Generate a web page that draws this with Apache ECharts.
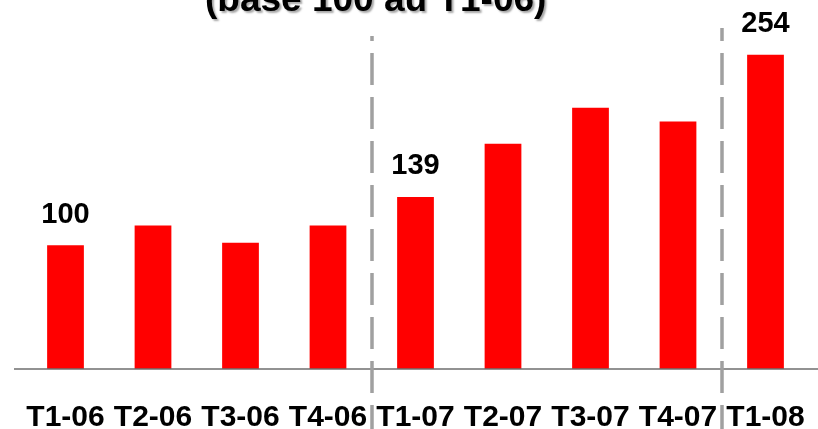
<!DOCTYPE html>
<html>
<head>
<meta charset="utf-8">
<script src="https://cdn.jsdelivr.net/npm/echarts@6/dist/echarts.min.js"></script>
<style>
  html, body { margin: 0; padding: 0; background: #fff; }
  #chart { width: 818px; height: 429px; }
</style>
</head>
<body>
<div id="chart"></div>
<script>
// données (base 100 au T1-06)
const trimestres = ['T1-06', 'T2-06', 'T3-06', 'T4-06', 'T1-07', 'T2-07', 'T3-07', 'T4-07', 'T1-08']
const indices = [100, 116, 102, 116, 139, 182, 211, 200, 254]
const etiquettes = [0, 4, 8] // barres dont la valeur est affichée
const separateurs = [4, 8]   // ruptures entre les années
const hautSeparateurs = [269, 275.5]

const police = 'Liberation Sans, Arial, sans-serif'
const myChart = echarts.init(document.getElementById('chart'))

const barData = indices.map((v, i) => ({
    value: v,
    label: { show: etiquettes.includes(i) }
}))

const option = {
    animation: false,
    title: {
        text: '(base 100 au T1-06)',
        left: 205,
        top: -18,
        padding: 0,
        textStyle: {
            fontFamily: police,
            fontSize: 37,
            fontWeight: 'bold',
            color: '#000',
            textShadowColor: 'rgba(0,0,0,0.35)',
            textShadowOffsetX: 2,
            textShadowOffsetY: 2,
            textShadowBlur: 2
        }
    },
    grid: [
        { left: 21.75, right: 8.75, top: 20, bottom: 60, outerBoundsMode: 'none' },
        { left: 0, right: 0, top: 20, bottom: 0, outerBoundsMode: 'none' }
    ],
    xAxis: [
        {
            gridIndex: 0,
            type: 'category',
            data: trimestres,
            axisLine: { show: false },
            axisTick: { show: false },
            axisLabel: {
                interval: 0,
                hideOverlap: false,
                margin: 34,
                fontFamily: police,
                fontSize: 30,
                fontWeight: 'bold',
                color: '#000'
            }
        },
        {
            gridIndex: 1,
            type: 'value',
            min: -0.2486,
            max: 9.1,
            show: false
        }
    ],
    yAxis: [
        { gridIndex: 0, type: 'value', min: 0, max: 282, show: false },
        { gridIndex: 1, type: 'value', min: -48.5, max: 282, show: false }
    ],
    series: [
        {
            type: 'bar',
            xAxisIndex: 0,
            yAxisIndex: 0,
            data: barData,
            barWidth: '42%',
            itemStyle: { color: '#ff0000' },
            label: {
                position: 'top',
                distance: 16,
                fontFamily: police,
                fontSize: 29,
                fontWeight: 'bold',
                color: '#000'
            }
        },
        {
            type: 'line',
            xAxisIndex: 1,
            yAxisIndex: 1,
            data: [],
            silent: true,
            markLine: {
                silent: true,
                symbol: ['none', 'none'],
                label: { show: false },
                data: [
                    // ligne de base
                    [
                        { coord: [-0.0886, 0], lineStyle: { color: '#6e6e6e', width: 1.5, type: 'solid' } },
                        { coord: [9.1, 0] }
                    ],
                    // séparateurs en pointillés
                    ...separateurs.map((s, k) => [
                        { coord: [s, -48.5], lineStyle: { color: '#a0a0a0', width: 3.5, type: [32, 12], dashOffset: 8 } },
                        { coord: [s, hautSeparateurs[k]] }
                    ])
                ]
            }
        }
    ]
}

myChart.setOption(option)
window.addEventListener('resize', () => {
    myChart.resize()
})
</script>
</body>
</html>
